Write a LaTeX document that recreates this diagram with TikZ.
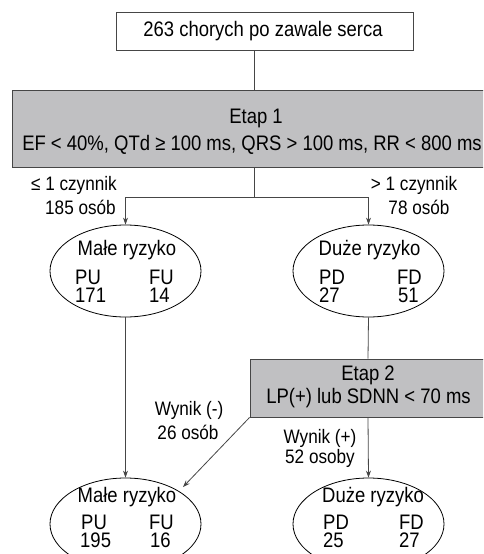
\documentclass[tikz,border=0pt]{standalone}
\usepackage{fontspec}
\setmainfont{Liberation Sans}[FakeStretch=0.88]
\usetikzlibrary{shapes.geometric,arrows.meta}
\definecolor{linec}{RGB}{70,70,70}
\definecolor{boxfill}{RGB}{192,192,194}
\tikzset{
  x=1pt, y=1pt,
  every node/.style={font=\fontsize{21}{21}\selectfont, inner sep=0pt, text=black},
  plainbox/.style={draw=linec, line width=0.8pt, fill=white},
  stagebox/.style={draw=linec, line width=0.8pt, fill=boxfill},
  riskell/.style={draw=black, line width=0.8pt, ellipse, minimum width=151pt, minimum height=92pt},
  conn/.style={draw=linec, line width=0.8pt},
  arr/.style={conn, -{Stealth[length=7pt,width=5pt]}},
  lbl/.style={font=\fontsize{19.5}{19.5}\selectfont},
  cell/.style={anchor=west, text height=14.5pt, text depth=0pt},
}
\begin{document}
\begin{tikzpicture}
\useasboundingbox (0,0) rectangle (483,-554);
\clip (0,0) rectangle (483,-554);
% top box
\node[plainbox, minimum width=297pt, minimum height=38pt] (top) at (264.5,-31) {};
\node (toptxt) at (263,-31) {263 chorych po zawale serca};
% Etap 1
\node[stagebox, minimum width=486pt, minimum height=77pt] (e1) at (255,-128.5) {};
\node (e1a) at (256,-118) {Etap 1};
\node (e1b) at (252,-145) {EF < 40\%, QTd ≥ 100 ms, QRS > 100 ms, RR < 800 ms};
\coordinate (t1) at (254,-50);
\coordinate (t2) at (254,-90);
\draw[conn] (t1) -- (t2);
\coordinate (s1) at (254,-167);
\coordinate (s2) at (254,-197);
\coordinate (sl) at (125.5,-197);
\coordinate (sr) at (368.5,-197);
% ellipses row 1
\node[riskell] (E1) at (125.5,-271) {};
\node[riskell] (E2) at (368.5,-271) {};
\draw[conn] (s1) -- (s2);
\draw[conn] (sl) -- (sr);
\draw[arr] (sl) -- (E1.north);
\draw[arr] (sr) -- (E2.north);
% labels stage 1
\node[lbl, anchor=east] (l1a) at (117,-185) {≤ 1 czynnik};
\node[lbl, anchor=east] (l1b) at (116,-207) {185 osób};
\node[lbl] (l2a) at (414,-185) {> 1 czynnik};
\node[lbl] (l2b) at (419,-207) {78 osób};
% ellipse texts row 1
\node (E1t) at (127,-250) {Małe ryzyko};
\node[cell] (E1p) at (75,-277) {PU};
\node[cell] (E1f) at (149,-277) {FU};
\node[cell] (E1pn) at (75,-295) {171};
\node[cell] (E1fn) at (149,-295) {14};
\node (E2t) at (369.5,-250) {Duże ryzyko};
\node[cell] (E2p) at (319,-277) {PD};
\node[cell] (E2f) at (397,-277) {FD};
\node[cell] (E2pn) at (319,-295) {27};
\node[cell] (E2fn) at (398,-295) {51};
% Etap 2
\node[stagebox, minimum width=236pt, minimum height=58pt] (e2) at (368,-388) {};
\node (e2a) at (368,-375) {Etap 2};
\node (e2b) at (368.5,-398) {LP(+) lub SDNN < 70 ms};
% ellipses row 2
\node[riskell] (E3) at (125.5,-524) {};
\node[riskell] (E4) at (368.5,-524) {};
\draw[conn] (E2.south) -- (e2.north);
\draw[arr] (E1.south) -- (E3.north);
\coordinate (d2) at (183,-487);
\draw[arr] (e2.south west) -- (d2);
\draw[arr] (e2.south) -- (E4.north);
% labels stage 2
\node[lbl] (w1a) at (189,-410) {Wynik (-)};
\node[lbl] (w1b) at (188,-432) {26 osób};
\node[lbl] (w2a) at (320,-438) {Wynik (+)};
\node[lbl] (w2b) at (320,-458) {52 osoby};
% ellipse texts row 2
\node (E3t) at (127,-497) {Małe ryzyko};
\node[cell] (E3p) at (81,-522) {PU};
\node[cell] (E3f) at (149,-522) {FU};
\node[cell] (E3pn) at (80,-540) {195};
\node[cell] (E3fn) at (150,-540) {16};
\node (E4t) at (373,-497) {Duże ryzyko};
\node[cell] (E4p) at (323,-522) {PD};
\node[cell] (E4f) at (399,-522) {FD};
\node[cell] (E4pn) at (323,-540) {25};
\node[cell] (E4fn) at (399,-540) {27};
\end{tikzpicture}
\end{document}
